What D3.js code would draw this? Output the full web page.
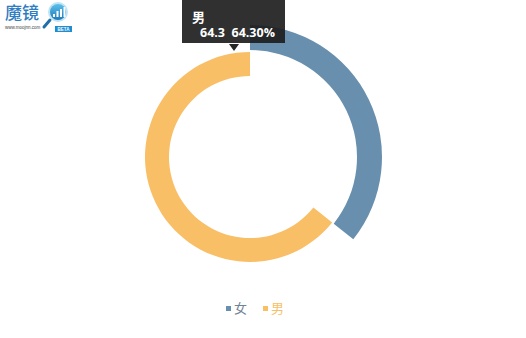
<!DOCTYPE html>
<html><head><meta charset="utf-8">
<script src="https://cdn.jsdelivr.net/npm/d3@7"></script>
<style>html,body{margin:0;padding:0;background:#fff;}svg{display:block;}</style>
</head><body>
<script>
const categories = ["女", "男"];
const values = [35.7, 64.3];
const tooltipCategory = "男";
const tooltipValue = 64.3;

const W = 526, H = 338;
const colors = ["#6890ae", "#f9bf67"];
const legendTextColors = ["#6f8296", "#f9bf67"];
const radii = [[107, 132], [81, 105]];
const cx = 250, cy = 157;

const svg = d3.select("body").append("svg").attr("width", W).attr("height", H);

// logo
const logo = svg.append("g");
logo.append("text").attr("x", 5).attr("y", 19).attr("font-family", "Noto Sans CJK SC")
  .attr("font-size", 17).attr("font-weight", 500).attr("fill", "#2f7cc1").text("魔镜");
logo.append("text").attr("x", 5).attr("y", 29).attr("font-family", "Arial, sans-serif")
  .attr("font-size", 4.5).attr("fill", "#444").text("www.moojnn.com");
const grad = svg.append("defs").append("linearGradient").attr("id", "lg").attr("x1", 0).attr("y1", 0).attr("x2", 0).attr("y2", 1);
grad.append("stop").attr("offset", "0%").attr("stop-color", "#5cc0ea");
grad.append("stop").attr("offset", "100%").attr("stop-color", "#1d7ab8");
logo.append("line").attr("x1", 50).attr("y1", 20).attr("x2", 44).attr("y2", 27).attr("stroke", "#1f6fa8").attr("stroke-width", 3).attr("stroke-linecap", "round");
logo.append("circle").attr("cx", 58).attr("cy", 12).attr("r", 10).attr("fill", "#bfe3f5");
logo.append("circle").attr("cx", 58).attr("cy", 12).attr("r", 8).attr("fill", "url(#lg)");
[[53, 14], [56.5, 11], [60, 9], [63.5, 7]].forEach(b => {
  logo.append("rect").attr("x", b[0]).attr("y", b[1]).attr("width", 2).attr("height", 17 - b[1]).attr("fill", "#fff");
});
logo.append("rect").attr("x", 55).attr("y", 26).attr("width", 17).attr("height", 6).attr("fill", "#1f8dd0");
logo.append("text").attr("x", 63.5).attr("y", 31).attr("text-anchor", "middle").attr("font-family", "Arial, sans-serif")
  .attr("font-size", 4.5).attr("font-weight", "bold").attr("fill", "#fff").text("BETA");

// donut
const pie = d3.pie().sort(null).startAngle(0).endAngle(2 * Math.PI)(values);
const g = svg.append("g").attr("transform", `translate(${cx},${cy})`);
g.selectAll("path").data(pie).join("path")
  .attr("d", (d, i) => d3.arc().innerRadius(radii[i][0]).outerRadius(radii[i][1])(d))
  .attr("fill", (d, i) => colors[i]);

// legend
const legend = svg.append("g").attr("transform", "translate(226,308)");
const lx = [0, 37];
categories.forEach((c, i) => {
  legend.append("rect").attr("x", lx[i]).attr("y", -2).attr("width", 5).attr("height", 5).attr("fill", colors[i]);
  legend.append("text").attr("x", lx[i] + 8).attr("y", 5).attr("font-family", "Noto Sans CJK SC")
    .attr("font-size", 13).attr("fill", legendTextColors[i]).text(c);
});

// tooltip
const total = d3.sum(values);
const tip = svg.append("g");
tip.append("rect").attr("x", 182).attr("y", 0).attr("width", 103).attr("height", 43).attr("fill", "rgba(30,30,30,0.92)");
tip.append("path").attr("d", "M229,44 L239,44 L234,51 Z").attr("fill", "#262626");
tip.append("text").attr("x", 192).attr("y", 22).attr("font-family", "Noto Sans CJK SC").attr("font-size", 13)
  .attr("font-weight", "bold").attr("fill", "#fff").text(tooltipCategory);
tip.append("text").attr("x", 200).attr("y", 37).attr("font-family", "Open Sans, sans-serif").attr("font-size", 12.5)
  .attr("font-weight", "bold").attr("fill", "#fff").attr("xml:space", "preserve")
  .text(`${tooltipValue}  ${(tooltipValue / total * 100).toFixed(2)}%`);
</script>
</body></html>
